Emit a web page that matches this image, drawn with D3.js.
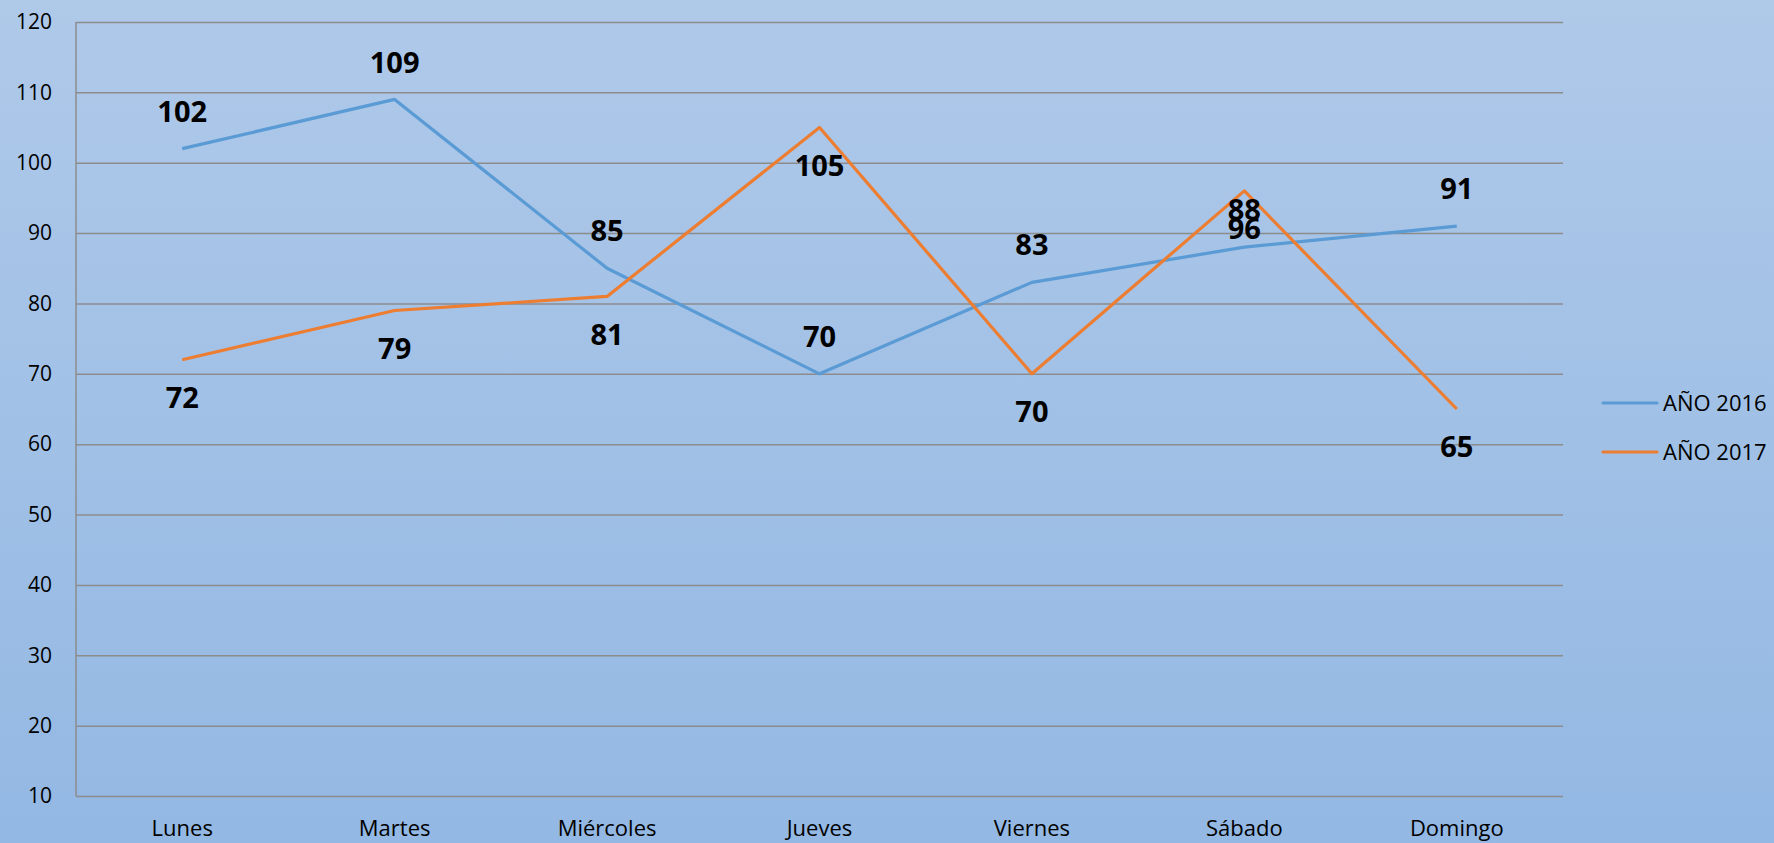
<!DOCTYPE html>
<html>
<head>
<meta charset="utf-8">
<script src="https://cdn.jsdelivr.net/npm/d3@7"></script>
<style>
  html, body { margin: 0; padding: 0; }
  body { width: 1774px; height: 843px; overflow: hidden; }
</style>
</head>
<body>
<div id="chart"></div>
<script>
// ---- data ----
const days = ["Lunes", "Martes", "Miércoles", "Jueves", "Viernes", "Sábado", "Domingo"];
const year2016 = [102, 109, 85, 70, 83, 88, 91];
const year2017 = [72, 79, 81, 105, 70, 96, 65];
const seriesNames = ["AÑO 2016", "AÑO 2017"];
const seriesColors = ["#5b9bd5", "#ed7d31"];
const yTicks = [10, 20, 30, 40, 50, 60, 70, 80, 90, 100, 110, 120];

const WIDTH = 1774;
const HEIGHT = 843;
const margin = { left: 76, right: WIDTH - 1563, top: 22, bottom: HEIGHT - 796 };

const svg = d3.select("#chart")
    .append("svg")
    .attr("width", WIDTH)
    .attr("height", HEIGHT);

// background gradient
const grad = svg.append("defs").append("linearGradient")
    .attr("id", "bg")
    .attr("x1", 0).attr("y1", 0).attr("x2", 0).attr("y2", 1);
grad.append("stop").attr("offset", "0%").attr("stop-color", "#afc9e9");
grad.append("stop").attr("offset", "100%").attr("stop-color", "#93b8e3");

svg.append("rect")
    .attr("width", WIDTH)
    .attr("height", HEIGHT)
    .attr("fill", "url(#bg)");

// scales
const x = d3.scaleBand()
    .domain(days)
    .range([margin.left, WIDTH - margin.right]);

const y = d3.scaleLinear()
    .domain([10, 120])
    .range([HEIGHT - margin.bottom, margin.top]);

// y axis with gridlines
const yAxis = svg.append("g")
    .attr("transform", `translate(${margin.left},0)`)
    .call(d3.axisLeft(y)
        .tickValues(yTicks)
        .tickSize(-(WIDTH - margin.left - margin.right))
        .tickPadding(24));
yAxis.select(".domain").remove();
yAxis.selectAll(".tick line")
    .attr("stroke", "#8c8c8c")
    .attr("stroke-width", 1.5);
yAxis.selectAll(".tick text")
    .attr("font-family", "'Open Sans', sans-serif")
    .attr("font-size", 21)
    .attr("fill", "#000");

// left axis line
svg.append("line")
    .attr("x1", margin.left).attr("x2", margin.left)
    .attr("y1", y(120)).attr("y2", y(10))
    .attr("stroke", "#8c8c8c")
    .attr("stroke-width", 1.5);

// x axis labels
const xAxis = svg.append("g")
    .attr("transform", `translate(0,${y(10)})`)
    .call(d3.axisBottom(x).tickSize(0).tickPadding(24));
xAxis.select(".domain").remove();
xAxis.selectAll(".tick text")
    .attr("font-family", "'Open Sans', sans-serif")
    .attr("font-size", 22)
    .attr("fill", "#000");

// lines
const line = d3.line()
    .x((d, i) => x(days[i]) + x.bandwidth() / 2)
    .y(d => y(d));

const allSeries = [year2016, year2017];

svg.append("g")
    .selectAll("path")
    .data(allSeries)
    .join("path")
    .attr("d", d => line(d))
    .attr("fill", "none")
    .attr("stroke", (d, i) => seriesColors[i])
    .attr("stroke-width", 3.2)
    .attr("stroke-linejoin", "round");

// data labels: 2016 above, 2017 below
const labelGroup = svg.append("g")
    .attr("font-family", "'Open Sans', sans-serif")
    .attr("font-size", 29)
    .attr("font-weight", "bold")
    .attr("text-anchor", "middle")
    .attr("fill", "#000");

allSeries.forEach((values, s) => {
    labelGroup.selectAll(null)
        .data(values)
        .join("text")
        .attr("x", (d, i) => x(days[i]) + x.bandwidth() / 2)
        .attr("y", d => s === 0 ? y(d) - 37 : y(d) + 38)
        .attr("dy", "0.35em")
        .text(d => d);
});

// legend
const legend = svg.append("g")
    .selectAll("g")
    .data(seriesNames)
    .join("g")
    .attr("transform", (d, i) => `translate(1603,${403 + i * 49})`);

legend.append("line")
    .attr("x1", 0).attr("x2", 54)
    .attr("stroke", (d, i) => seriesColors[i])
    .attr("stroke-width", 3.2)
    .attr("stroke-linecap", "round");

legend.append("text")
    .attr("x", 60)
    .attr("dy", "0.35em")
    .attr("font-family", "'Open Sans', sans-serif")
    .attr("font-size", 22)
    .attr("fill", "#000")
    .text(d => d);
</script>
</body>
</html>
